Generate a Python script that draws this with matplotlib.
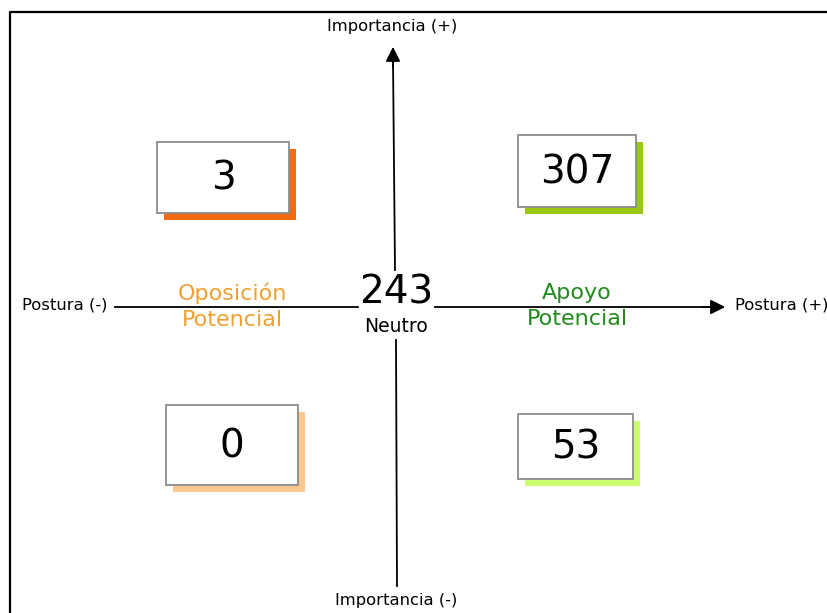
import matplotlib.pyplot as plt
from matplotlib.patches import Rectangle

# quadrant counts: top-left, top-right, bottom-left, bottom-right
quadrants = ['Alta oposicion', 'Alto apoyo', 'Baja oposicion', 'Bajo apoyo']
counts = [3, 307, 0, 53]
neutral_count = 243
neutral_label = 'Neutro'
side_labels = ['Oposición\nPotencial', 'Apoyo\nPotencial']
axis_labels = ['Importancia (+)', 'Importancia (-)', 'Postura (-)', 'Postura (+)']

# box geometry in pixels (x0, y0, x1, y1) and shadow colour
BOXES = [
    ((157, 142, 289, 213), '#F26B10'),
    ((518, 135, 636, 207), '#99C814'),
    ((166, 405, 298, 485), '#FDC890'),
    ((518, 414, 633, 479), '#CCFF70'),
]
SHADOW = 7

fig = plt.figure(figsize=(8.27, 6.13), dpi=100)
ax = fig.add_axes([0, 0, 1, 1])
ax.set_xlim(0, 827)
ax.set_ylim(613, 0)
ax.axis('off')

# outer frame (cut off at right and bottom)
ax.plot([10, 10, 827], [613, 12, 12], color='black', lw=1.6)

# axes
ax.plot([115, 358], [307, 307], color='black', lw=1.3)
ax.plot([435, 712], [307, 307], color='black', lw=1.3)
ax.annotate('', xy=(728, 307), xytext=(700, 307),
            arrowprops=dict(arrowstyle='-|>', color='black', lw=1.3, mutation_scale=22))
ax.plot([393, 395], [60, 270], color='black', lw=1.3)
ax.plot([396, 397], [340, 586], color='black', lw=1.3)
ax.annotate('', xy=(393, 44), xytext=(393, 70),
            arrowprops=dict(arrowstyle='-|>', color='black', lw=1.3, mutation_scale=22))

ax.text(392, 27, axis_labels[0], ha='center', va='center', fontsize=11.8)
ax.text(396, 601, axis_labels[1], ha='center', va='center', fontsize=11.8)
ax.text(108, 305, axis_labels[2], ha='right', va='center', fontsize=11.8)
ax.text(735, 305, axis_labels[3], ha='left', va='center', fontsize=11.8)

for ((x0, y0, x1, y1), col), n in zip(BOXES, counts):
    ax.add_patch(Rectangle((x0 + SHADOW, y0 + SHADOW), x1 - x0, y1 - y0,
                           facecolor=col, edgecolor='none', zorder=2))
    ax.add_patch(Rectangle((x0, y0), x1 - x0, y1 - y0, facecolor='white',
                           edgecolor='#8c8c8c', lw=1.3, zorder=3))
    ax.text((x0 + x1) / 2, (y0 + y1) / 2 + 1, str(n), ha='center', va='center',
            fontsize=28, zorder=4)

ax.text(396, 292, str(neutral_count), ha='center', va='center', fontsize=28)
ax.text(396, 326, neutral_label, ha='center', va='center', fontsize=13.5)

ax.text(232, 306, side_labels[0], ha='center', va='center', fontsize=16,
        color='#F0A030', linespacing=1.4)
ax.text(577, 306, side_labels[1], ha='center', va='center', fontsize=16,
        color='#228B1E', linespacing=1.4)

fig.savefig('out.png', dpi=100)
